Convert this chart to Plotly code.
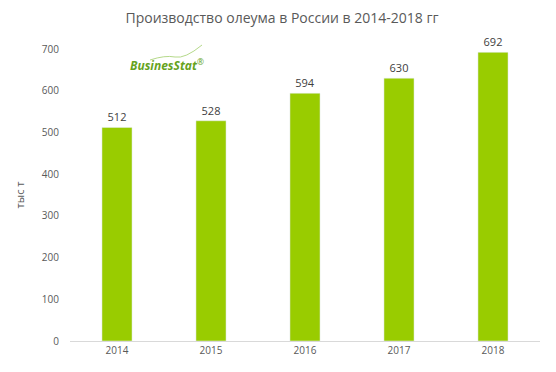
import plotly.graph_objects as go

years = ["2014", "2015", "2016", "2017", "2018"]
values = [512, 528, 594, 630, 692]
y_ticks = [0, 100, 200, 300, 400, 500, 600, 700]

FONT = "Open Sans, sans-serif"

fig = go.Figure()
fig.add_trace(go.Bar(
    x=years, y=values,
    marker=dict(color="#99cc00"),
    width=0.32,
    text=[str(v) for v in values],
    textposition="outside",
    textfont=dict(family=FONT, size=11, color="#404040"),
    cliponaxis=False,
))

fig.update_layout(
    width=548, height=364,
    margin=dict(l=62, r=16, t=41, b=31),
    paper_bgcolor="white", plot_bgcolor="white",
    showlegend=False,
    title=dict(text="Производство олеума в России в 2014-2018 гг",
               x=0.5, xanchor="center", xref="container", y=1 - 10/364, yanchor="middle",
               font=dict(family=FONT, size=14, color="#595959")),
    xaxis=dict(showgrid=False, showline=True, linecolor="#d9d9d9", linewidth=1,
               ticks="", tickfont=dict(family=FONT, size=10, color="#595959")),
    yaxis=dict(range=[0, 700], tickvals=y_ticks, showgrid=False, zeroline=False,
               showline=False, ticks="", ticklabelstandoff=10,
               tickfont=dict(family=FONT, size=10, color="#595959"),
               title=dict(text="тыс т", standoff=14,
                          font=dict(family=FONT, size=11, color="#595959"))),
    font=dict(family=FONT),
)

fig.add_annotation(
    xref="x domain", yref="y domain", x=(167 - 70) / 470, y=(341 - 65) / 292,
    xanchor="center", yanchor="middle",
    text="<b><i>BusinesStat</i></b><sup>®</sup>",
    showarrow=False, font=dict(family=FONT, size=12, color="#66a31e"),
)
# decorative swoosh of the logo
def px(xp):
    return (xp - 70) / 470
def py(yp):
    return (341 - yp) / 292
fig.add_shape(
    type="path", xref="x domain", yref="y domain",
    path=(f"M {px(150)},{py(60)} Q {px(165)},{py(55)} {px(175)},{py(57)} "
          f"T {px(202)},{py(45)}"),
    line=dict(color="#b5d98a", width=1),
)

fig.write_html("out.html")
